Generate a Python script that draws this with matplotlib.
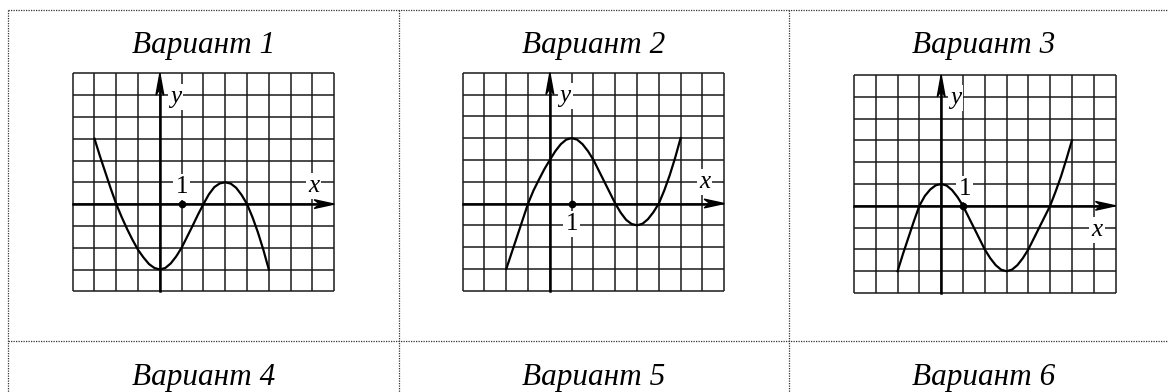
import numpy as np
import matplotlib.pyplot as plt
from matplotlib.patches import Polygon

# шрифт как в учебнике (Times)
plt.rcParams['font.family'] = ['Liberation Serif', 'DejaVu Serif']

W, H = 1168, 392

titles = ['Вариант 1', 'Вариант 2', 'Вариант 3']
titles2 = ['Вариант 4', 'Вариант 5', 'Вариант 6']

# сетка: x от -4 до 8, y от -4 до 6
xmin, xmax = -4, 8
ymin, ymax = -4, 6

# точки графиков (шаг 0.25)
x1 = np.arange(-3, 5.01, 0.25)
y1 = [3.0, 2.2, 1.45, 0.7, 0.0, -0.6, -1.15, -1.65, -2.1, -2.45, -2.75, -2.93, -3.0,
      -2.93, -2.72, -2.4, -2.0, -1.5, -1.0, -0.48, 0.0, 0.45, 0.78, 0.95, 1.0,
      0.94, 0.75, 0.42, 0.0, -0.6, -1.3, -2.1, -3.0]

x2 = np.arange(-2, 6.01, 0.25)
y2 = [-3.0, -2.25, -1.5, -0.75, 0.0, 0.6, 1.1, 1.58, 2.0, 2.4, 2.72, 2.93, 3.0,
      2.93, 2.72, 2.4, 2.0, 1.5, 1.0, 0.5, 0.0, -0.42, -0.75, -0.94, -1.0,
      -0.93, -0.72, -0.4, 0.0, 0.6, 1.3, 2.1, 3.0]

x3 = np.arange(-2, 6.01, 0.25)
y3 = [-3.0, -2.2, -1.45, -0.7, 0.0, 0.45, 0.75, 0.94, 1.0, 0.93, 0.72, 0.4, 0.0,
      -0.5, -1.0, -1.5, -2.0, -2.4, -2.72, -2.93, -3.0, -2.93, -2.72, -2.4, -2.0,
      -1.5, -1.0, -0.5, 0.0, 0.65, 1.35, 2.15, 3.0]

curves = [(x1, y1), (x2, y2), (x3, y3)]

# подписи: (x, y) для "y", "x" и "1"
label_y = [(0.71, 4.92), (0.7, 4.95), (0.65, 4.95)]
label_x = [(7.05, 0.85), (7.1, 1.0), (7.15, -1.1)]
label_1 = [(1.0, 0.78), (1.0, -0.95), (1.08, 0.75)]

# положение сеток в пикселях: левый край, верх
boxes = [(72.7, 73.3), (462.7, 72.7), (854.0, 75.0)]
gw, gh = 261.5, 218.0

fig = plt.figure(figsize=(W / 100, H / 100), dpi=100)

# фон с таблицей
bg = fig.add_axes([0, 0, 1, 1])
bg.set_xlim(0, W)
bg.set_ylim(H, 0)
bg.axis('off')
dot = dict(color='#333333', lw=0.9, ls=(0, (1, 1)))
bg.plot([8, W], [10, 10], **dot)
bg.plot([8, W], [341, 341], **dot)
for xv in [8, 399, 789]:
    bg.plot([xv, xv], [10, H], **dot)

centers = [203.5, 594, 984]
for c, t in zip(centers, titles):
    bg.text(c, 45, t, ha='center', va='center', fontsize=22.5, style='italic')
for c, t in zip(centers, titles2):
    bg.text(c, 377, t, ha='center', va='center', fontsize=22.5, style='italic')

for i in range(3):
    left, top = boxes[i]
    ax = fig.add_axes([left / W, 1 - (top + gh) / H, gw / W, gh / H])
    ax.set_xlim(xmin, xmax)
    ax.set_ylim(ymin, ymax)
    ax.axis('off')

    # клетки
    ax.vlines(np.arange(xmin, xmax + 1), ymin, ymax, color='#1a1a1a', lw=1.1,
              zorder=1, clip_on=False)
    ax.hlines(np.arange(ymin, ymax + 1), xmin, xmax, color='#1a1a1a', lw=1.1,
              zorder=1, clip_on=False)

    # оси
    ax.plot([xmin, xmax - 0.5], [0, 0], color='black', lw=1.8, zorder=4, clip_on=False)
    ax.plot([0, 0], [ymin, ymax - 0.5], color='black', lw=1.8, zorder=4, clip_on=False)
    ax.add_patch(Polygon([(xmax, 0), (xmax - 0.92, 0.2), (xmax - 0.65, 0),
                          (xmax - 0.92, -0.2)], closed=True, color='black',
                         zorder=4, clip_on=False))
    ax.add_patch(Polygon([(0, ymax), (0.18, ymax - 1.0), (0, ymax - 0.72),
                          (-0.18, ymax - 1.0)], closed=True, color='black',
                         zorder=4, clip_on=False))

    # график
    cx, cy = curves[i]
    ax.plot(cx, cy, color='black', lw=1.6, zorder=5, clip_on=False,
            solid_joinstyle='round')
    ax.plot([1], [0], 'o', color='black', ms=4.5, zorder=6)

    wb = dict(facecolor='white', edgecolor='none', pad=1.5)
    ax.text(*label_y[i], 'y', ha='center', va='center', fontsize=18,
            style='italic', bbox=wb, zorder=3)
    ax.text(*label_x[i], 'x', ha='center', va='center', fontsize=18,
            style='italic', bbox=wb, zorder=3)
    ax.text(*label_1[i], '1', ha='center', va='center', fontsize=18,
            bbox=wb, zorder=3)

plt.savefig('out.png', dpi=100)
